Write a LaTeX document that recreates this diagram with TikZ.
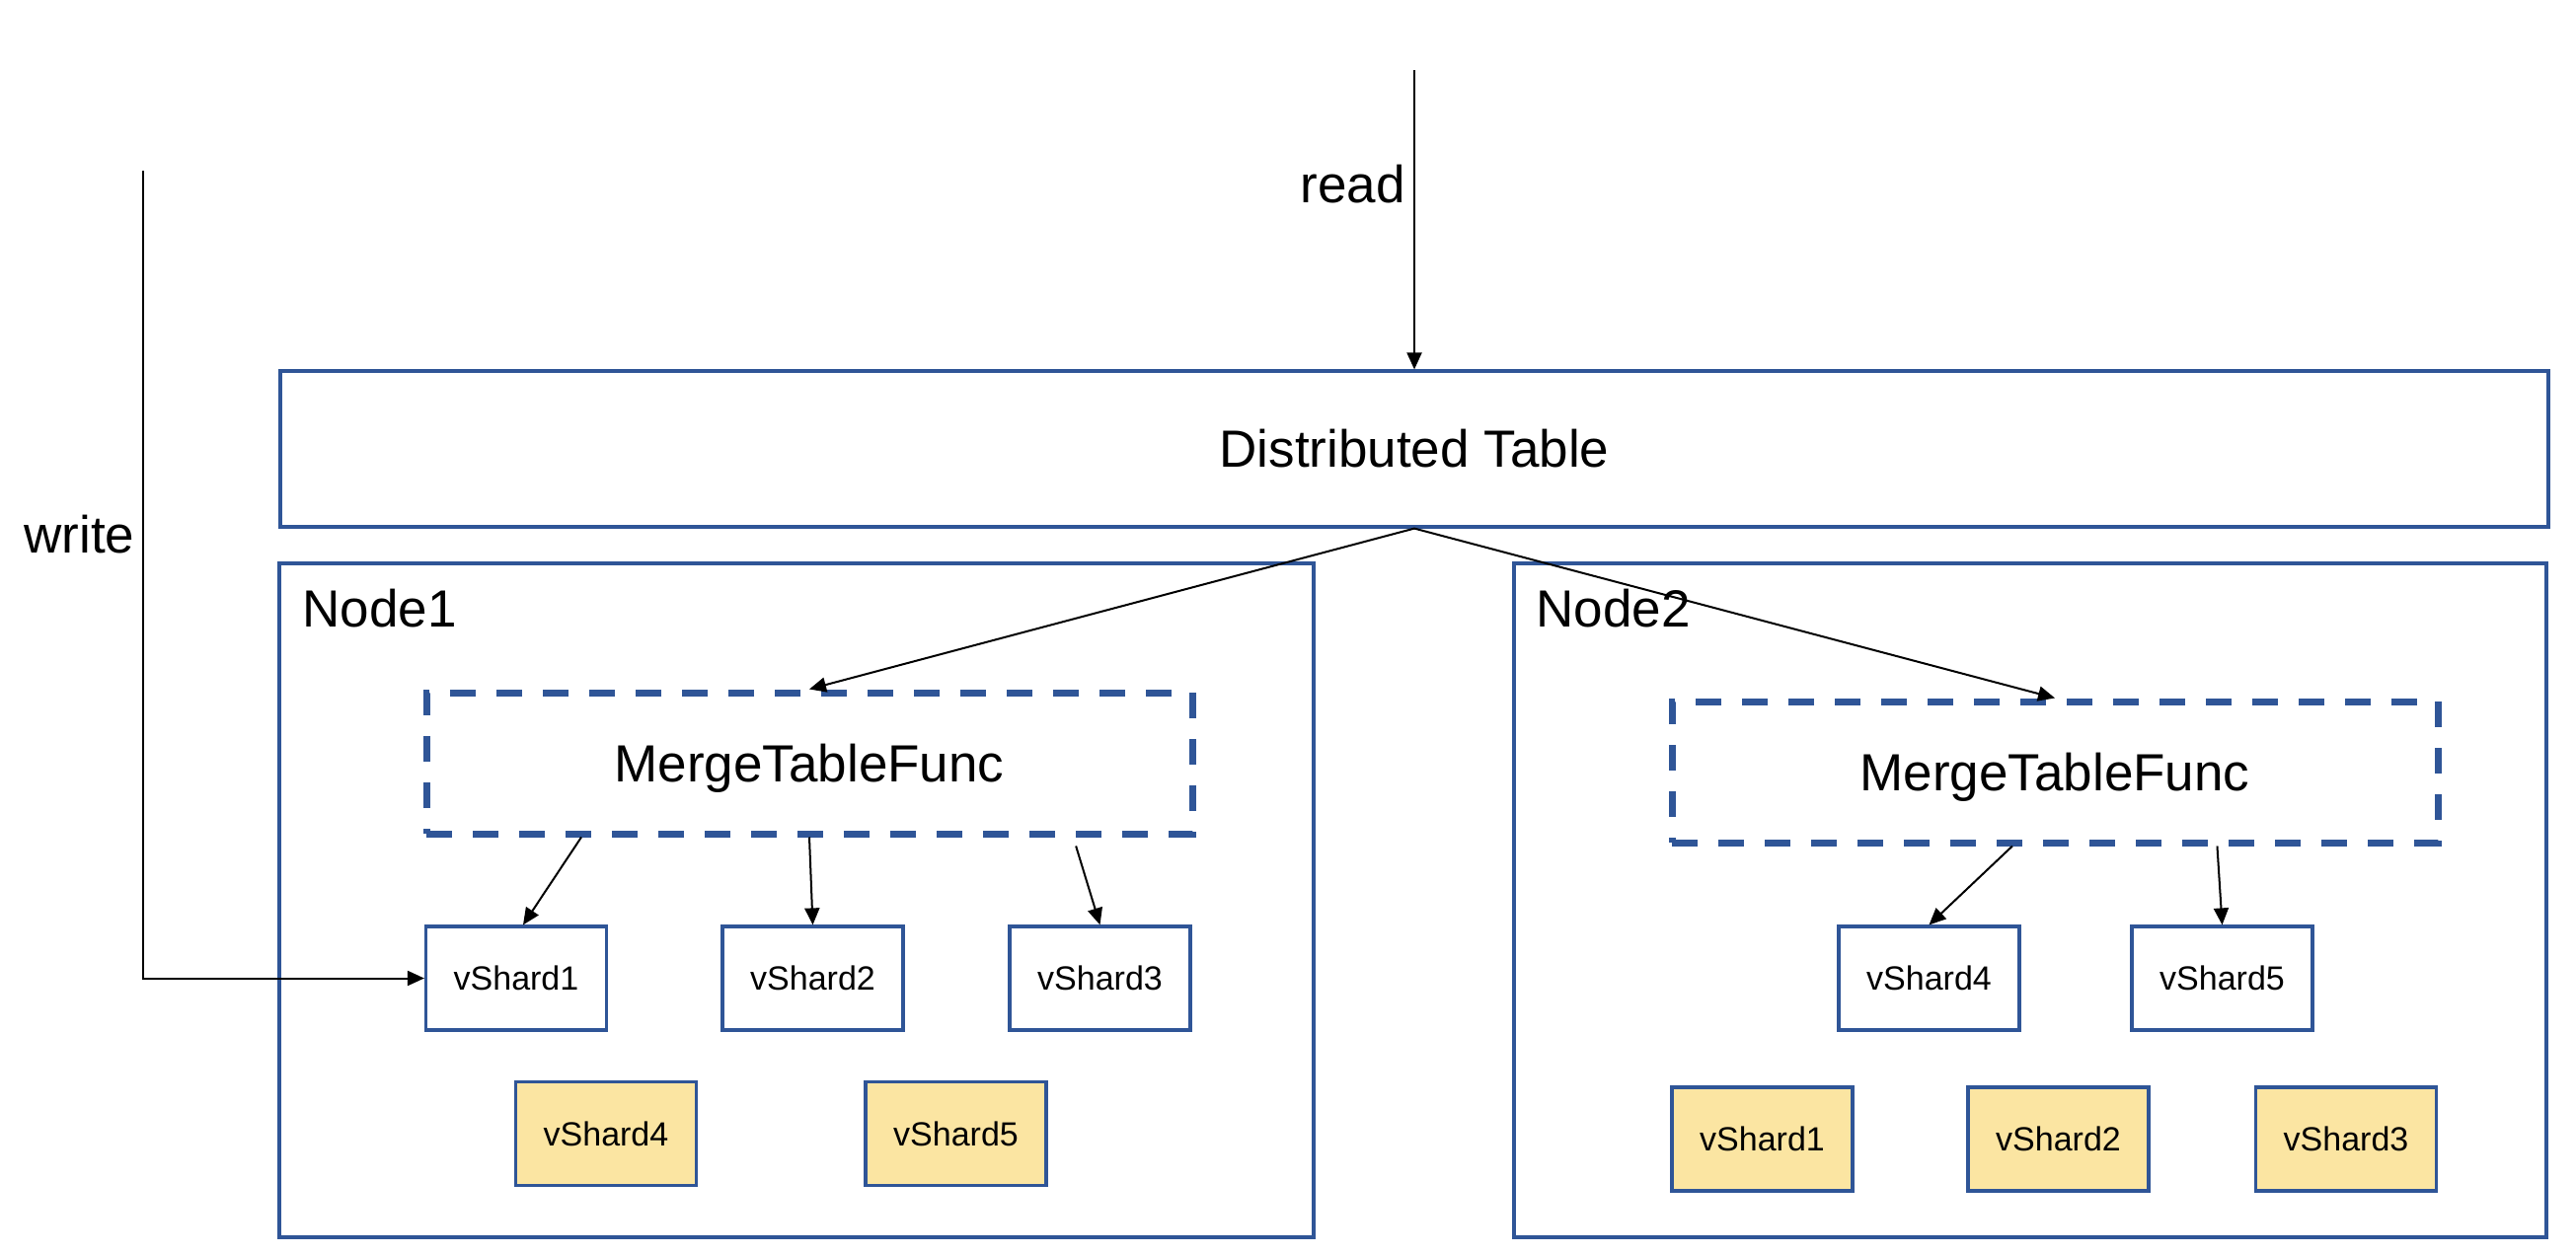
\documentclass[tikz,border=0pt]{standalone}
\usepackage{fontspec}
\setmainfont{Liberation Sans}
\usetikzlibrary{arrows.meta,calc}
\definecolor{bdr}{HTML}{2F5597}
\definecolor{gold}{HTML}{FBE5A2}
\tikzset{
  big/.style={font=\fontsize{26.5pt}{30pt}\selectfont},
  small/.style={font=\fontsize{17pt}{20pt}\selectfont},
  frame/.style={draw=bdr,line width=1.6pt,rectangle,inner sep=0pt},
  mtf/.style={draw=bdr,line width=3.5pt,dash pattern=on 13pt off 10.5pt,rectangle,inner sep=0pt,
     minimum width=388pt,minimum height=71.5pt,big,text depth=0pt},
  shard/.style={frame,minimum width=91.5pt,minimum height=52.5pt,small},
  yshard/.style={shard,fill=gold},
  conn/.style={draw=black,line width=1pt,-{Triangle[length=8.5pt,width=7.5pt]}},
}
\begin{document}
\begin{tikzpicture}[x=0.5pt,y=-0.5pt]
\useasboundingbox (0,0) rectangle (2610,1272);
% top table
\node[frame,big,minimum width=1149pt,minimum height=79pt] (dt) at (1433,455) {Distributed Table};
% node frames
\node[frame,minimum width=524pt,minimum height=341.5pt] (node1) at (807,912.5) {};
\node[frame,minimum width=523pt,minimum height=341.5pt] (node2) at (2057,912.5) {};
\node[big,anchor=base west,inner sep=0pt] (lab1) at (306,635) {Node1};
\node[big,anchor=base west,inner sep=0pt] (lab2) at (1556,635) {Node2};
% merge funcs
\node[mtf] (mtf1) at (820,773.5) {MergeTableFunc};
\node[mtf] (mtf2) at (2082,782.5) {MergeTableFunc};
% shards node1
\node[shard] (a1) at (523,991.5) {vShard1};
\node[shard] (a2) at (823.5,991.5) {vShard2};
\node[shard] (a3) at (1114.5,991.5) {vShard3};
\node[yshard] (a4) at (614,1149) {vShard4};
\node[yshard] (a5) at (968.5,1149) {vShard5};
% shards node2
\node[shard] (b4) at (1954.5,991.5) {vShard4};
\node[shard] (b5) at (2251.5,991.5) {vShard5};
\node[yshard] (b1) at (1785.5,1154.5) {vShard1};
\node[yshard] (b2) at (2085.5,1154.5) {vShard2};
\node[yshard] (b3) at (2377,1154.5) {vShard3};
% read / write
\coordinate (rtop) at (1433,71);
\coordinate (wtop) at (145,173);
\node[big,anchor=base east,inner sep=0pt] (rlab) at (1424,206) {read};
\node[big,anchor=base west,inner sep=0pt] (wlab) at (24,560) {write};
\draw[conn] (rtop) -- (dt.north);
\draw[conn] (wtop) |- (a1.west);
% distribution arrows
\draw[conn] (dt.south) -- (mtf1.north);
\draw[conn] (dt.south) -- (mtf2.north);
\draw[conn] ($(mtf1.south west)!0.205!(mtf1.south east)$) -- ([xshift=3.5pt]a1.north);
\draw[conn] (mtf1.south) -- (a2.north);
\draw[conn] ($(mtf1.south west)!0.845!(mtf1.south east)+(0,9)$) -- (a3.north);
\draw[conn] ($(mtf2.south west)!0.445!(mtf2.south east)$) -- (b4.north);
\draw[conn] ($(mtf2.south west)!0.71!(mtf2.south east)$) -- (b5.north);
\end{tikzpicture}
\end{document}
